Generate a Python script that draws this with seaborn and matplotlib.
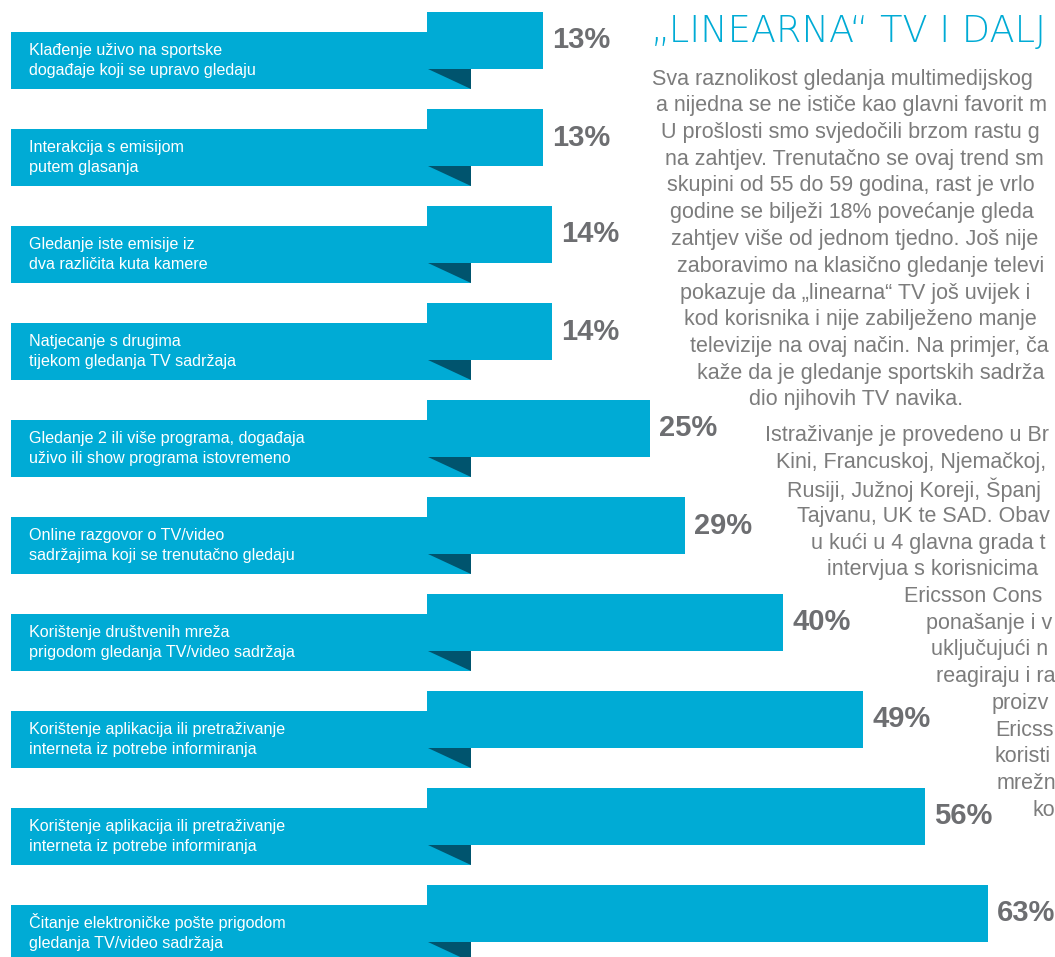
import matplotlib
matplotlib.use("Agg")
import matplotlib.pyplot as plt
import seaborn as sns
import pandas as pd
from matplotlib.patches import Rectangle, Polygon

# ---------------- data ----------------
activities = [
    "Klađenje uživo na sportske\ndogađaje koji se upravo gledaju",
    "Interakcija s emisijom\nputem glasanja",
    "Gledanje iste emisije iz\ndva različita kuta kamere",
    "Natjecanje s drugima\ntijekom gledanja TV sadržaja",
    "Gledanje 2 ili više programa, događaja\nuživo ili show programa istovremeno",
    "Online razgovor o TV/video\nsadržajima koji se trenutačno gledaju",
    "Korištenje društvenih mreža\nprigodom gledanja TV/video sadržaja",
    "Korištenje aplikacija ili pretraživanje\ninterneta iz potrebe informiranja",
    "Korištenje aplikacija ili pretraživanje\ninterneta iz potrebe informiranja",
    "Čitanje elektroničke pošte prigodom\ngledanja TV/video sadržaja",
]
shares = [13, 13, 14, 14, 25, 29, 40, 49, 56, 63]
share_labels = [f"{v}%" for v in shares]

# visible (edge-cropped) lines of the side article
title = "„LINEARNA“ TV I DALJ"
paragraph1 = [
    "Sva raznolikost gledanja multimedijskog",
    "a nijedna se ne ističe kao glavni favorit m",
    "U prošlosti smo svjedočili brzom rastu g",
    "na zahtjev. Trenutačno se ovaj trend sm",
    "skupini od 55 do 59 godina, rast je vrlo",
    "godine se bilježi 18% povećanje gleda",
    "zahtjev više od jednom tjedno. Još nije",
    "zaboravimo na klasično gledanje televi",
    "pokazuje da „linearna“ TV još uvijek i",
    "kod korisnika i nije zabilježeno manje",
    "televizije na ovaj način. Na primjer, ča",
    "kaže da je gledanje sportskih sadrža",
    "dio njihovih TV navika.",
]
paragraph2 = [
    "Istraživanje je provedeno u Br",
    "Kini, Francuskoj, Njemačkoj,",
    "Rusiji, Južnoj Koreji, Španj",
    "Tajvanu, UK te SAD. Obav",
    "u kući u 4 glavna grada t",
    "intervjua s korisnicima",
    "Ericsson Cons",
    "ponašanje i v",
    "uključujući n",
    "reagiraju i ra",
    "proizv",
    "Ericss",
    "koristi",
    "mrežn",
    "ko",
]

# ---------------- layout (pixels) ----------------
W, H = 1055, 957
pitch = 97.0
bar_top0 = 12.0
bar_h = 57.0
box_off = 20.0
box_left, box_right = 11.0, 471.0
fold_left = 428.0
x0_px, px_per_pct = 427.0, 8.9

p1_x = [652, 656, 661, 665, 667, 670, 671, 677, 680, 684, 690, 697, 749]
p1_y0, p2_y0, line_step = 79.0, 436.0, 26.75
p2_x = [765, 776, 787, 797, 811, 827, 904, 926, 931, 936, 992, 995, 995, 997, 1032]

blue = "#00ABD5"
dark = "#00546E"
grey_num = "#6D6E71"
grey_txt = "#7C7C7C"

sns.set_style("white")
plt.rcParams["font.family"] = ["Liberation Sans", "DejaVu Sans"]

fig = plt.figure(figsize=(W / 100, H / 100), dpi=100)

# decoration axes in pixel coordinates
deco = fig.add_axes([0, 0, 1, 1])
deco.set_xlim(0, W)
deco.set_ylim(H, 0)
deco.axis("off")

for i, lab in enumerate(activities):
    top = bar_top0 + i * pitch
    btop = top + box_off
    deco.add_patch(Rectangle((box_left, btop), box_right - box_left, bar_h,
                             facecolor=blue, edgecolor="none", zorder=1))
    deco.add_patch(Polygon([(fold_left, top + bar_h), (box_right, top + bar_h),
                            (box_right, btop + bar_h)], closed=True,
                           facecolor=dark, edgecolor="none", zorder=3))
    l1, l2 = lab.split("\n")
    deco.text(29, btop + 23, l1, color="white", fontsize=11.6, va="baseline",
              ha="left", zorder=4)
    deco.text(29, btop + 43, l2, color="white", fontsize=11.6, va="baseline",
              ha="left", zorder=4)

# right-hand text
deco.text(651, 42, title, color=blue, fontsize=26.5, va="baseline", ha="left",
          family=["DejaVu Sans"], fontweight=200)
for k, (line, x) in enumerate(zip(paragraph1, p1_x)):
    deco.text(x, p1_y0 + k * line_step, line, color=grey_txt, fontsize=15.5,
              va="center", ha="left")
for k, (line, x) in enumerate(zip(paragraph2, p2_x)):
    deco.text(x, p2_y0 + k * line_step, line, color=grey_txt, fontsize=15.5,
              va="center", ha="left")

# bar axes (data scale)
ax = fig.add_axes([0, 0, 1, 1], zorder=2)
ax.patch.set_alpha(0)
df = pd.DataFrame({"row": list(range(len(shares))), "share": shares})
sns.barplot(data=df, x="share", y="row", orient="h", color=blue, saturation=1,
            width=bar_h / pitch, errorbar=None, ax=ax)
for p in ax.patches:
    p.set_edgecolor("none")
ax.bar_label(ax.containers[0], labels=share_labels, padding=6.5, fontsize=21,
             fontweight="bold", color=grey_num)

c0 = bar_top0 + bar_h / 2
ax.set_xlim((0 - x0_px) / px_per_pct, (W - x0_px) / px_per_pct)
ax.set_ylim((H - c0) / pitch, (0 - c0) / pitch)
ax.axis("off")

fig.savefig("out.png", dpi=100)
